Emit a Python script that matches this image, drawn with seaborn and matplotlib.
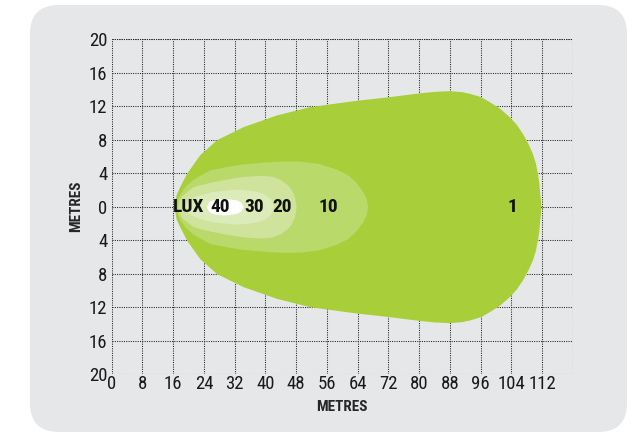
import numpy as np
import seaborn as sns
import matplotlib.pyplot as plt
from matplotlib.patches import FancyBboxPatch

sns.set_theme(style="white")
plt.rcParams["font.family"] = ["Roboto Condensed", "Roboto", "DejaVu Sans"]

# lux contours: distance along beam (m) and half width (m)
lux1_x = [16.4, 16.5, 16.8, 17.7, 19.5, 22.9, 27.3, 34.2, 42.9, 51.5, 61.0, 64.5, 72.3,
          80.1, 84.0, 87.9, 91.0, 93.1, 96.0, 98.3, 101.0, 103.5, 105.3, 106.9, 108.3,
          109.5, 110.3, 110.8, 111.2, 111.4, 111.6, 111.7]
lux1_h = [0.0, 0.8, 1.5, 2.4, 4.0, 6.2, 8.0, 9.56, 10.96, 11.95, 12.55, 12.75, 13.15,
          13.6, 13.78, 13.86, 13.75, 13.55, 13.15, 12.55, 11.75, 10.75, 9.85, 8.77, 7.6,
          6.38, 5.2, 4.0, 2.8, 1.6, 0.8, 0.0]

lux10_x = [16.9, 17.1, 17.7, 19.0, 21.2, 25.5, 29.9, 34.0, 40.0, 44.0, 48.9, 54.0,
           58.4, 61.5, 63.6, 65.5, 66.3, 66.6]
lux10_h = [0.0, 0.8, 1.5, 2.4, 3.3, 4.4, 4.8, 5.1, 5.35, 5.45, 5.45, 5.15,
           4.5, 3.8, 2.9, 1.7, 0.9, 0.0]

lux20_x = [17.3, 17.5, 18.2, 21.2, 25.5, 29.9, 34.0, 38.5, 41.5, 43.7, 45.8, 46.8, 47.6, 48.0]
lux20_h = [0.0, 0.7, 1.3, 2.4, 2.9, 3.3, 3.6, 3.75, 3.65, 3.3, 2.6, 2.0, 1.2, 0.0]

lux30_x = [19.0, 19.4, 20.4, 22.1, 26.0, 32.5, 37.0, 39.4, 41.2, 41.8, 42.0]
lux30_h = [0.0, 0.5, 0.9, 1.3, 1.8, 2.1, 1.9, 1.6, 1.0, 0.5, 0.0]

lux40_x = [24.7, 25.0, 25.6, 27.0, 29.5, 32.5, 33.7, 34.2]
lux40_h = [0.0, 0.4, 0.7, 0.9, 1.0, 0.8, 0.5, 0.0]

contours = [
    (lux1_x, lux1_h, "#a8ce3a"),
    (lux10_x, lux10_h, "#bad96b"),
    (lux20_x, lux20_h, "#cfe39d"),
    (lux30_x, lux30_h, "#dcebba"),
    (lux40_x, lux40_h, "#ffffff"),
]

lux_labels = ["LUX", "40", "30", "20", "10", "1"]
lux_label_x = [20.1, 28.3, 37.2, 44.4, 56.3, 104.3]

x_ticks = list(range(0, 121, 8))
x_tick_labels = [str(v) for v in range(0, 113, 8)] + [""]
y_ticks = list(range(-20, 21, 4))
y_tick_labels = [str(abs(v)) for v in y_ticks]

GRID_KW = dict(color="#222222", linestyle=(0, (1, 1.2)), linewidth=0.75)

fig = plt.figure(figsize=(6.42, 4.37), dpi=100)
fig.patch.set_facecolor("white")

panel = FancyBboxPatch(
    (30 / 642, 5 / 437), 597 / 642, 427 / 437,
    boxstyle="round,pad=0,rounding_size=0.045",
    transform=fig.transFigure, facecolor="#e6e7e9", edgecolor="none",
    mutation_aspect=642 / 437, zorder=-10,
)
fig.patches.append(panel)

ax = fig.add_axes([111.7 / 642, 1 - 374 / 437, (572.7 - 111.7) / 642, (374 - 39.3) / 437])
ax.set_facecolor("none")
ax.set_zorder(1)

for cx, ch, col in contours:
    cx = np.asarray(cx)
    ch = np.asarray(ch)
    ax.fill_between(cx, -ch, ch, color=col, linewidth=0, zorder=3)

for lab, lx in zip(lux_labels, lux_label_x):
    ax.text(lx, 0, lab, ha="center", va="center", fontsize=14, fontweight="bold",
            color="#111111", zorder=5)

ax.set_xlim(0, 120)
ax.set_ylim(-20, 20)
ax.set_xticks(x_ticks)
ax.set_xticklabels(x_tick_labels)
ax.set_yticks(y_ticks)
ax.set_yticklabels(y_tick_labels)
ax.tick_params(axis="both", length=0, labelsize=13.5, colors="#1a1a1a")
ax.tick_params(axis="x", pad=1)
ax.tick_params(axis="y", pad=3)

ax.set_axisbelow(True)
ax.grid(True, **GRID_KW)
for sp in ax.spines.values():
    sp.set_visible(False)
ax.axvline(120, zorder=1, **GRID_KW)
ax.axhline(20, zorder=1, **GRID_KW)

ax.set_xlabel("METRES", fontsize=11, fontweight="bold", labelpad=5)
ax.set_ylabel("METRES", fontsize=11, fontweight="bold", labelpad=4)

fig.savefig("out.png", dpi=100)
